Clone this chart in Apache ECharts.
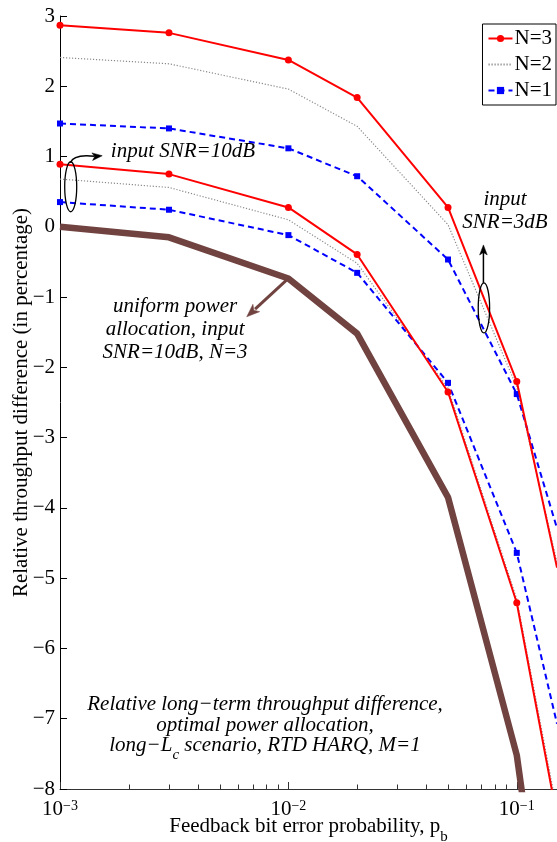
<!DOCTYPE html>
<html>
<head>
<meta charset="utf-8">
<script src="https://cdn.jsdelivr.net/npm/echarts@6/dist/echarts.min.js"></script>
<style>
  html, body { margin: 0; padding: 0; background: #fff; }
  #main { width: 557px; height: 842px; }
</style>
</head>
<body>
<div id="main"></div>
<script>
// Feedback bit error probability p_b (x positions of the computed points)
const pbValues = [0.001, 0.003, 0.01, 0.02, 0.05, 0.1, 0.15];
// number of leading points that carry a marker
const markedCount = 6;

// Relative throughput difference (%), input SNR = 3 dB
const n3Snr3 = [2.87, 2.76, 2.375, 1.84, 0.276, -2.20, -4.85];
const n2Snr3 = [2.41, 2.32, 1.96, 1.43, 0.03, -2.28, -4.78];
const n1Snr3 = [1.47, 1.40, 1.117, 0.72, -0.465, -2.38, -4.29];

// Relative throughput difference (%), input SNR = 10 dB
const n3Snr10 = [0.889, 0.75, 0.276, -0.393, -2.35, -5.35, -8.40];
const n2Snr10 = [0.68, 0.56, 0.10, -0.52, -2.30, -5.30, -8.30];
const n1Snr10 = [0.352, 0.243, -0.118, -0.655, -2.22, -4.64, -7.07];

// Uniform power allocation, input SNR = 10 dB, N = 3
const uniformSnr10N3 = [0.0, -0.15, -0.735, -1.52, -3.85, -7.52, -11.6];

// Y axis range / tick step
const yMin = -8, yMax = 3, yStep = 1;
// X axis range
const xMin = 0.001, xMax = 0.15;
// Minor log ticks (2..9 per decade)
const minorTickValues = [0.002, 0.003, 0.004, 0.005, 0.006, 0.007, 0.008, 0.009,
                         0.02, 0.03, 0.04, 0.05, 0.06, 0.07, 0.08, 0.09];

const legendNames = ['N=3', 'N=2', 'N=1'];

// Annotation anchors, in data coordinates [p_b, difference]
const snr10Ellipse = [0.001114, 0.57];
const snr10Label = [0.00167, 1.07];
const snr3Ellipse = [0.0718, -1.154];
const snr3Label = [0.0888, 0.22];
const uniformArrowFrom = [0.01, -0.735];
const uniformArrowTo = [0.00657, -1.28];
const uniformLabel = [0.00319, -1.457];
const captionLabel = [0.0079, -7.10];

const SERIF = "'Liberation Serif', 'Times New Roman', serif";
const RED = '#ff0000', BLUE = '#0000ff', GREY = '#8a8a8a', BROWN = '#714340';

function points(values) {
  return pbValues.map((x, i) => i < markedCount
    ? { value: [x, values[i]] }
    : { value: [x, values[i]], symbol: 'none' });
}

function redSeries(values) {
  return {
    name: 'N=3', type: 'line', data: points(values), z: 5,
    symbol: 'circle', symbolSize: 7,
    itemStyle: { color: RED },
    lineStyle: { color: RED, width: 2 }
  };
}
function greySeries(values) {
  return {
    name: 'N=2', type: 'line', data: points(values), z: 3,
    symbol: 'none',
    itemStyle: { color: GREY },
    lineStyle: { color: GREY, width: 1.2, type: [1.2, 1.8] }
  };
}
function blueSeries(values) {
  return {
    name: 'N=1', type: 'line', data: points(values), z: 4,
    symbol: 'rect', symbolSize: 6,
    itemStyle: { color: BLUE },
    lineStyle: { color: BLUE, width: 2, type: [6, 4] }
  };
}

const chart = echarts.init(document.getElementById('main'), null, { renderer: 'canvas' });

chart.setOption({
  animation: false,
  backgroundColor: '#fff',
  grid: { left: 60, right: 0, top: 16, bottom: 53, containLabel: false, outerBoundsMode: 'none' },
  legend: {
    data: legendNames.map(n => n === 'N=2' ? { name: n, itemStyle: { opacity: 0 } } : { name: n }),
    orient: 'vertical',
    right: 1, top: 24,
    backgroundColor: '#fff',
    borderColor: '#000', borderWidth: 1,
    padding: [4, 4, 4, 5],
    itemGap: 5,
    itemWidth: 24, itemHeight: 9,
    textStyle: { fontFamily: SERIF, fontSize: 21, color: '#000', lineHeight: 21, padding: [0, 0, 0, -3] }
  },
  xAxis: {
    type: 'log', logBase: 10, min: xMin, max: xMax,
    name: '{t|Feedback bit error probability, p}{s|b}',
    nameLocation: 'middle', nameGap: 27, nameMoveOverlap: false,
    nameTextStyle: {
      rich: {
        t: { fontFamily: SERIF, fontSize: 21, color: '#000', lineHeight: 24, verticalAlign: 'top' },
        s: { fontFamily: SERIF, fontSize: 15, color: '#000', lineHeight: 15, padding: [14, 0, 0, 0], verticalAlign: 'top' }
      }
    },
    axisLine: { show: true, onZero: false, lineStyle: { color: '#333', width: 1 } },
    axisTick: { show: true, inside: true, length: 7, lineStyle: { color: '#333' } },
    splitLine: { show: false },
    axisLabel: {
      margin: 10,
      showMaxLabel: false,
      formatter: function (v) {
        const e = Math.log10(v);
        const r = Math.round(e);
        if (Math.abs(e - r) > 1e-6) return '';
        return '{b|10}{s|\u2212' + (-r) + '}';
      },
      rich: {
        b: { fontFamily: SERIF, fontSize: 21, color: '#000', lineHeight: 21, verticalAlign: 'bottom' },
        s: { fontFamily: SERIF, fontSize: 14, color: '#000', lineHeight: 14, verticalAlign: 'top', padding: [0, 0, 3, 0] }
      }
    }
  },
  yAxis: {
    type: 'value', min: yMin, max: yMax, interval: yStep,
    name: 'Relative throughput difference (in percentage)',
    nameLocation: 'middle', nameGap: 28, nameMoveOverlap: false,
    nameTextStyle: { fontFamily: SERIF, fontSize: 21, color: '#000' },
    axisLine: { show: true, onZero: false, lineStyle: { color: '#000', width: 1 } },
    axisTick: { show: true, inside: true, length: 7, lineStyle: { color: '#000' } },
    splitLine: { show: false },
    axisLabel: {
      margin: 5,
      fontFamily: SERIF, fontSize: 21, color: '#000',
      formatter: v => (v < 0 ? '\u2212' + Math.abs(v) : String(v))
    }
  },
  series: [
    greySeries(n2Snr3),
    blueSeries(n1Snr3),
    redSeries(n3Snr3),
    greySeries(n2Snr10),
    blueSeries(n1Snr10),
    redSeries(n3Snr10),
    {
      name: 'uniform', type: 'line', z: 2,
      data: points(uniformSnr10N3), symbol: 'none',
      itemStyle: { color: BROWN },
      lineStyle: { color: BROWN, width: 6.5 }
    }
  ]
});

// Annotations and minor ticks placed from data coordinates
const px = p => chart.convertToPixel({ gridIndex: 0 }, p);

function arrowHead(tip, from, len, half, color) {
  const dx = tip[0] - from[0], dy = tip[1] - from[1];
  const d = Math.hypot(dx, dy);
  const ux = dx / d, uy = dy / d;
  const bx = tip[0] - ux * len, by = tip[1] - uy * len;
  return {
    type: 'polygon', silent: true, z: 20,
    shape: { points: [tip, [bx - uy * half, by + ux * half], [tip[0] - ux * len * 0.75, tip[1] - uy * len * 0.75], [bx + uy * half, by - ux * half]] },
    style: { fill: color, stroke: color, lineWidth: 0.5 }
  };
}

const italic = { fontFamily: SERIF, fontSize: 21, fontStyle: 'italic', fill: '#000' };
function label(pos, text, lineH) {
  return {
    type: 'text', silent: true, z: 20,
    x: pos[0], y: pos[1],
    style: Object.assign({ text: text, align: 'center', verticalAlign: 'middle', lineHeight: lineH || 23 }, italic)
  };
}

const e10 = px(snr10Ellipse);
const e3 = px(snr3Ellipse);
const uFrom = px(uniformArrowFrom);
const uTo = px(uniformArrowTo);
const cap = px(captionLabel);
const l10 = px(snr10Label);

const minorTicks = minorTickValues.map(x => {
  const p = px([x, yMin]);
  const cx = Math.round(p[0]) + 0.5;
  return {
    type: 'line', silent: true, z: 10,
    shape: { x1: cx, y1: p[1], x2: cx, y2: p[1] - 4.5 },
    style: { stroke: '#333', lineWidth: 1 }
  };
});

const graphics = minorTicks.concat([
  // SNR = 10 dB group marker
  { type: 'ellipse', silent: true, z: 20, shape: { cx: e10[0], cy: e10[1], rx: 6, ry: 25 },
    style: { fill: 'none', stroke: '#000', lineWidth: 1.3 } },
  { type: 'bezierCurve', silent: true, z: 20,
    shape: { x1: e10[0] - 0.5, y1: e10[1] - 24, cpx1: e10[0] + 3, cpy1: e10[1] - 33, x2: e10[0] + 24, y2: e10[1] - 30.5 },
    style: { fill: 'none', stroke: '#000', lineWidth: 1.5 } },
  arrowHead([e10[0] + 31.5, e10[1] - 31], [e10[0] + 10, e10[1] - 29], 10, 3.8, '#000'),
  {
    type: 'text', silent: true, z: 20,
    x: l10[0], y: l10[1],
    style: Object.assign({ text: 'input SNR=10dB', align: 'left', verticalAlign: 'middle' }, italic)
  },
  // SNR = 3 dB group marker
  { type: 'ellipse', silent: true, z: 20, shape: { cx: e3[0], cy: e3[1], rx: 5.7, ry: 25 },
    style: { fill: 'none', stroke: '#000', lineWidth: 1.3 } },
  { type: 'line', silent: true, z: 20,
    shape: { x1: e3[0] - 0.5, y1: e3[1] - 25, x2: e3[0] - 0.5, y2: e3[1] - 56 },
    style: { stroke: '#000', lineWidth: 1.5 } },
  arrowHead([e3[0] - 0.5, e3[1] - 63], [e3[0] - 0.5, e3[1] - 25], 10, 3.8, '#000'),
  label(px(snr3Label), 'input\nSNR=3dB', 23),
  // uniform power allocation pointer
  { type: 'line', silent: true, z: 20,
    shape: { x1: uFrom[0], y1: uFrom[1], x2: uTo[0] + (uFrom[0] - uTo[0]) * 0.2, y2: uTo[1] + (uFrom[1] - uTo[1]) * 0.2 },
    style: { stroke: BROWN, lineWidth: 3 } },
  arrowHead(uTo, uFrom, 13, 5, BROWN),
  label(px(uniformLabel), 'uniform power\nallocation, input\nSNR=10dB, N=3', 23),
  // caption
  label([cap[0], cap[1] - 21.5], 'Relative long\u2212term throughput difference,', 21),
  label([cap[0], cap[1]], 'optimal power allocation,', 21),
  {
    type: 'text', silent: true, z: 20,
    x: cap[0], y: cap[1] + 9,
    style: {
      text: '{m|long\u2212L}{c|c}{m| scenario, RTD HARQ, M=1}',
      align: 'center', verticalAlign: 'top',
      rich: {
        m: { fontFamily: SERIF, fontSize: 21, fontStyle: 'italic', fill: '#000', lineHeight: 21, verticalAlign: 'top' },
        c: { fontFamily: SERIF, fontSize: 15, fontStyle: 'italic', fill: '#000', lineHeight: 15, padding: [13, 0, 0, 0], verticalAlign: 'top' }
      }
    }
  }
]);

chart.setOption({ graphic: graphics });
</script>
</body>
</html>
